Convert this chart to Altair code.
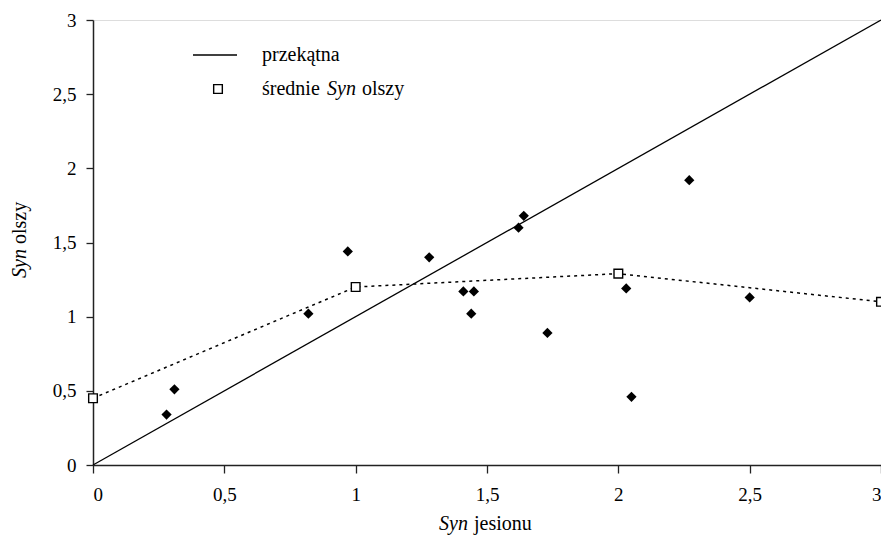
import altair as alt
import pandas as pd

# scatter points: Syn jesionu (x) vs Syn olszy (y)
pts_x = [0.28, 0.31, 0.82, 0.97, 1.28, 1.41, 1.45, 1.44, 1.64, 1.62, 1.73, 2.03, 2.05, 2.27, 2.50]
pts_y = [0.34, 0.51, 1.02, 1.44, 1.40, 1.17, 1.17, 1.02, 1.68, 1.60, 0.89, 1.19, 0.46, 1.92, 1.13]

# means of Syn olszy
mean_x = [0, 1, 2, 3]
mean_y = [0.45, 1.20, 1.29, 1.10]

# diagonal
diag_x = [0, 3]
diag_y = [0, 3]

ticks = [0, 0.5, 1, 1.5, 2, 2.5, 3]

FONT = "Liberation Serif, 'Times New Roman', 'DejaVu Serif', serif"
FS = 20

pts = pd.DataFrame({"x": pts_x, "y": pts_y})
means = pd.DataFrame({"x": mean_x, "y": mean_y})
diag = pd.DataFrame({"x": diag_x, "y": diag_y})
one = pd.DataFrame({"k": [0]})

label_expr = "replace(toString(datum.value), '.', ',')"

xscale = alt.Scale(domain=[0, 3], nice=False, zero=False)
yscale = alt.Scale(domain=[0, 3], nice=False, zero=False)

xaxis = alt.Axis(values=ticks, labelExpr=label_expr, title=None, grid=False,
                 tickSize=8, labelPadding=12, domainColor="#222", tickColor="#222",
                 domainWidth=1.5, tickWidth=1.3, labelFont=FONT, labelFontSize=19,
                 labelColor="black")
yaxis = alt.Axis(values=ticks, labelExpr=label_expr, title=None, grid=False,
                 tickSize=7, labelPadding=10, domainColor="#222", tickColor="#222",
                 domainWidth=1.5, tickWidth=1.3, labelFont=FONT, labelFontSize=19,
                 labelColor="black")

diag_layer = alt.Chart(diag).mark_line(color="black", strokeWidth=1.3).encode(
    x=alt.X("x:Q", scale=xscale, axis=xaxis),
    y=alt.Y("y:Q", scale=yscale, axis=yaxis),
)

mean_line = alt.Chart(means).mark_line(color="black", strokeWidth=1.5, strokeDash=[3, 4]).encode(
    x="x:Q", y="y:Q"
)
mean_pts = alt.Chart(means).mark_point(shape="square", filled=True, fill="white",
                                       stroke="black", strokeWidth=1.4, size=75,
                                       opacity=1).encode(x="x:Q", y="y:Q")

pt_layer = alt.Chart(pts).mark_point(shape="diamond", filled=True, color="black",
                                     size=105, opacity=1).encode(x="x:Q", y="y:Q")

# legend
leg_line = alt.Chart(one).mark_rule(color="black", strokeWidth=1.3).encode(
    x=alt.value(100), x2=alt.value(144), y=alt.value(35))
leg_sq = alt.Chart(one).mark_point(shape="square", filled=True, fill="white",
                                   stroke="black", strokeWidth=1.4, size=75,
                                   opacity=1).encode(x=alt.value(125), y=alt.value(69))


def txt(t, x, y, italic=False, angle=0, align="left", baseline="middle"):
    kw = dict(font=FONT, fontSize=FS, color="black", align=align, baseline=baseline, text=t)
    if italic:
        kw["fontStyle"] = "italic"
    if angle:
        kw["angle"] = angle
    return alt.Chart(one).mark_text(**kw).encode(x=alt.value(x), y=alt.value(y))


texts = [
    txt("przekątna", 169, 35),
    txt("średnie", 169, 69),
    txt("Syn", 234, 69, italic=True),
    txt("olszy", 269, 69),
    # x title
    txt("Syn", 346, 510, italic=True, baseline="alphabetic"),
    txt("jesionu", 381, 510, baseline="alphabetic"),
    # y title (rotated)
    txt("Syn", -67, 258, italic=True, angle=270, baseline="alphabetic"),
    txt("olszy", -67, 224, angle=270, baseline="alphabetic"),
]

chart = alt.layer(diag_layer, mean_line, mean_pts, pt_layer, leg_line, leg_sq, *texts).properties(
    width=788, height=445,
    autosize=alt.AutoSizeParams(type="none"),
    padding={"left": 85, "top": 12, "right": 0, "bottom": 71},
).configure_view(stroke=None).configure(background="white")

chart.save("out.html", embed_options={"renderer": "svg", "actions": False})
